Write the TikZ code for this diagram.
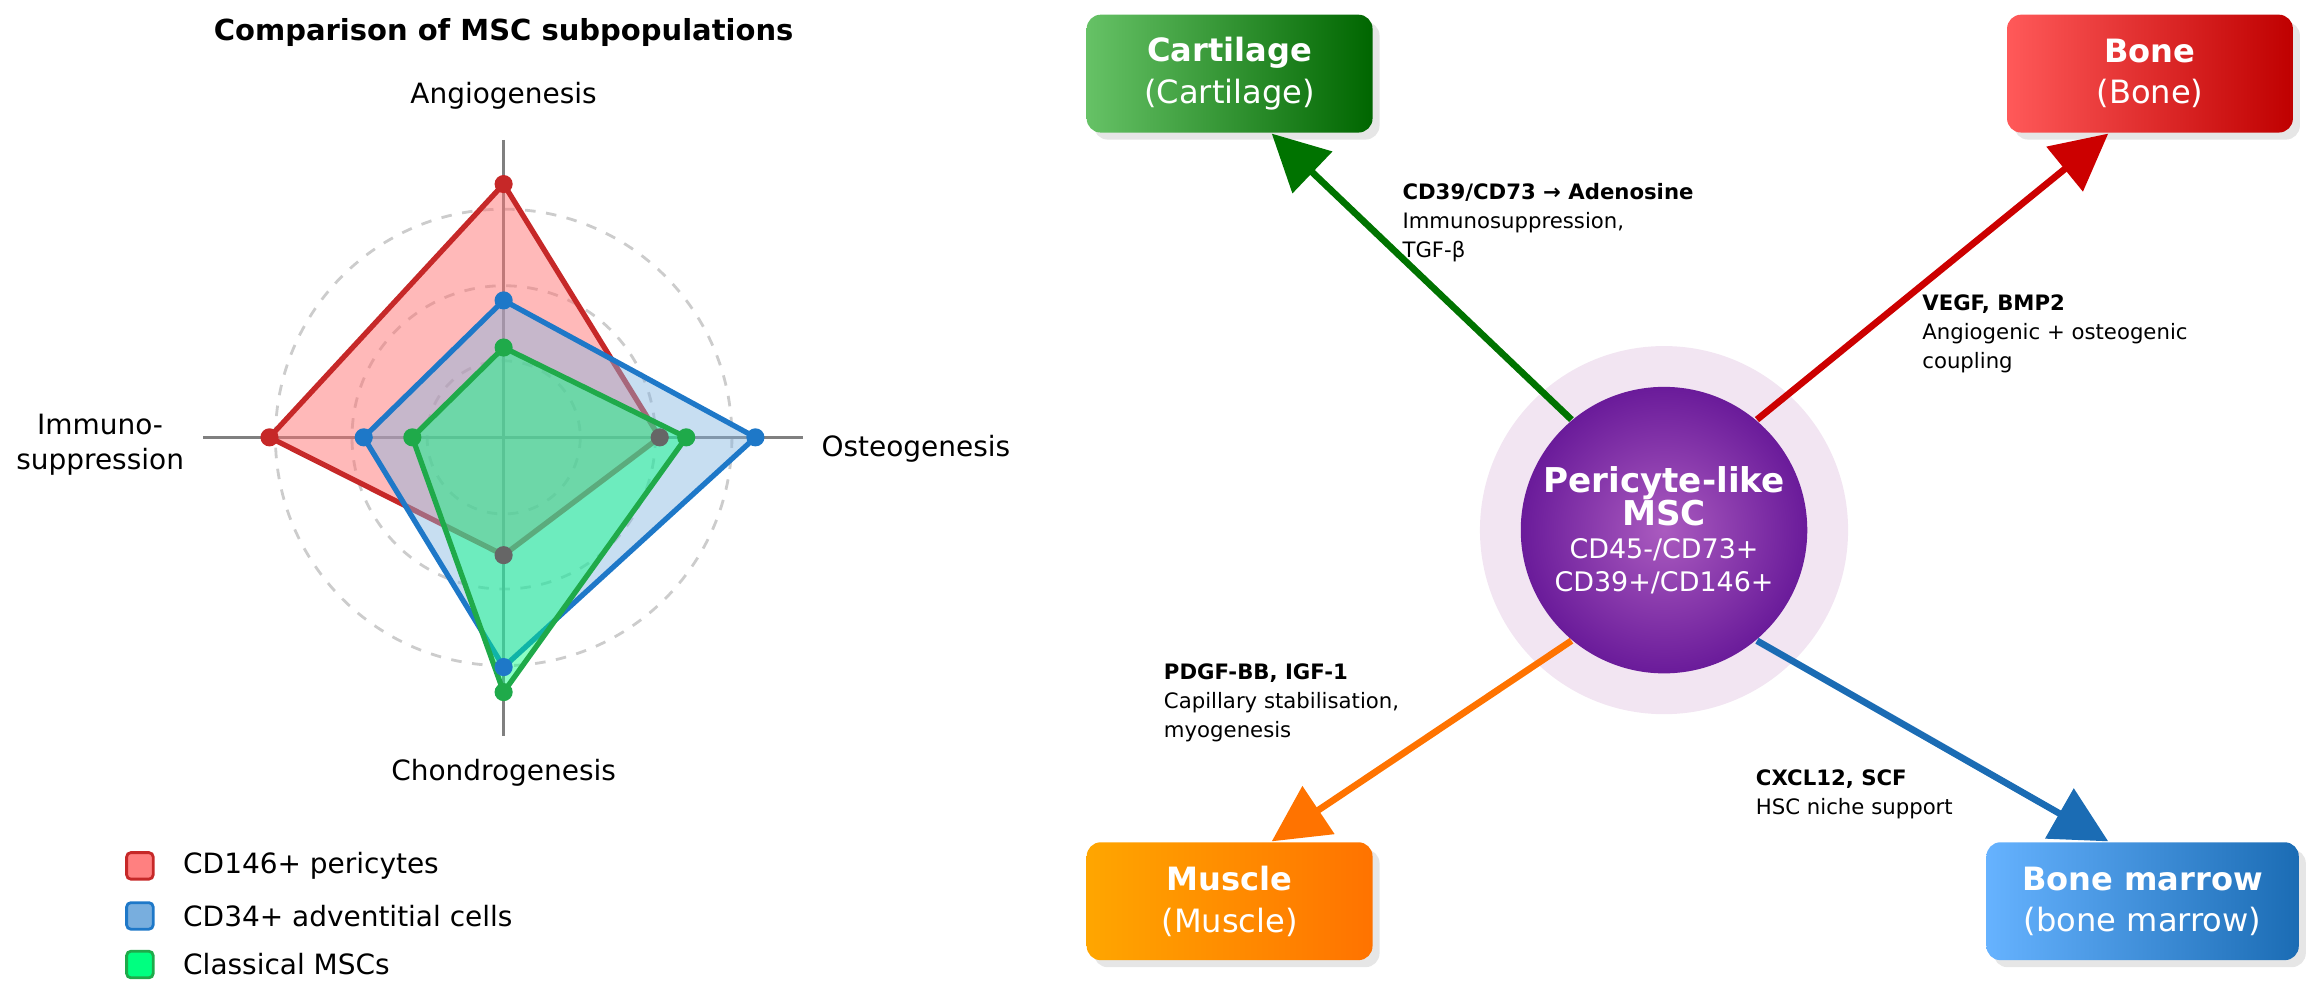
\documentclass[tikz,border=0pt]{standalone}
\usepackage{fontspec}
\setmainfont{DejaVu Sans}
\usetikzlibrary{arrows.meta,shadows}
\definecolor{cr}{HTML}{C62828}\definecolor{cb}{HTML}{1E78C8}\definecolor{cg}{HTML}{1FAA4A}
\definecolor{pu}{HTML}{8E24AA}\definecolor{pud}{HTML}{6A1B9A}
\newcommand{\bigb}[1]{\textbf{\fontsize{6.6}{8}\selectfont #1}}
\begin{document}
\begin{tikzpicture}[x=0.01cm,y=-0.01cm,scale=1.4726,every node/.append style={transform shape},
 lab/.style={font=\fontsize{5.4}{6.6}\selectfont,align=center},
 sm/.style={font=\fontsize{4.1}{5.6}\selectfont,align=left,anchor=north west},
 box/.style={rounded corners=4pt,minimum width=1.94cm,minimum height=0.8cm,align=center,text=white,font=\fontsize{6.2}{8}\selectfont,drop shadow={opacity=0.2,shadow xshift=2pt,shadow yshift=-2pt}},
 arr/.style={line width=1.9pt,-{Triangle[length=16pt,width=16pt]}},
 pt/.style={circle,inner sep=0pt,minimum size=3.5pt}]
\useasboundingbox (0,0) rectangle (1568,678);
% radar
\coordinate (c) at (342,297);
\foreach \r in {52,103,155} \draw[gray!40,dashed,line width=0.8pt] (c) circle[radius=\r];
\draw[gray,line width=1pt] (342,95)--(342,500) (138,297)--(545,297);
\filldraw[cr,fill=red!55,fill opacity=0.5,line width=1.5pt] (342,125)--(448,297)--(342,377)--(183,297)--cycle;
\filldraw[cb,fill=cb!55,fill opacity=0.45,line width=1.5pt] (342,204)--(513,297)--(342,453)--(247,297)--cycle;
\filldraw[cg,fill=green!50!cyan,fill opacity=0.45,line width=1.5pt] (342,236)--(466,297)--(342,470)--(280,297)--cycle;
\foreach \p in {(342,125),(183,297)} \node[pt,fill=cr] at \p {};
\foreach \p in {(448,297),(342,377)} \node[pt,fill=gray!80!black] at \p {};
\foreach \p in {(342,204),(513,297),(342,453),(247,297)} \node[pt,fill=cb] at \p {};
\foreach \p in {(342,236),(466,297),(342,470),(280,297)} \node[pt,fill=cg] at \p {};
\node[font=\bfseries\fontsize{5.6}{7}\selectfont] (title) at (342,22) {Comparison of MSC subpopulations};
\node[lab] (a1) at (342,65) {Angiogenesis};
\node[lab] (a2) at (622,305) {Osteogenesis};
\node[lab] (a3) at (342,525) {Chondrogenesis};
\node[lab] (a4) at (68,302) {Immuno-\\suppression};
\foreach \y/\c/\f/\t in {588/cr/red!50/CD146+ pericytes,622/cb/cb!60/CD34+ adventitial cells,655/cg/green!50!cyan/Classical MSCs}{
 \node[draw=\c,fill=\f,line width=0.8pt,rounded corners=1.2pt,minimum size=0.18cm,inner sep=0pt] at (95,\y) {};
 \node[lab,anchor=west] at (112,\y) {\t};}
% right side
\fill[violet!10] (1130,360) circle[radius=125];
\node[circle,minimum size=1.8cm,inner sep=1pt,inner color=pu!75,outer color=pud,text=white,align=center,font=\fontsize{5.2}{6.4}\selectfont] (m) at (1130,360) {\bigb{Pericyte-like}\\\bigb{MSC}\\CD45-/CD73+\\CD39+/CD146+};
\node[box,left color=green!60!black!60!white,right color=green!40!black] (cart) at (835,50) {\textbf{Cartilage}\\(Cartilage)};
\node[box,left color=red!65,right color=red!75!black] (bone) at (1460,50) {\textbf{Bone}\\(Bone)};
\node[box,left color=orange!70!yellow,right color=orange!90!red] (mus) at (835,612) {\textbf{Muscle}\\(Muscle)};
\node[box,minimum width=2.12cm,left color=cyan!50!blue!60,right color=cb!90!black] (bm) at (1455,612) {\textbf{Bone marrow}\\(bone marrow)};
\draw[arr,green!45!black] (m.130) -- (cart.-55);
\draw[arr,red!80!black] (m.50) -- (bone.-125);
\draw[arr,orange!90!red] (m.-130) -- (mus.55);
\draw[arr,cb!90!black] (m.-50) -- (bm.120);
\node[sm] (t1) at (940,112) {\textbf{CD39/CD73 → Adenosine}\\Immunosuppression,\\TGF-β};
\node[sm] (t2) at (1293,188) {\textbf{VEGF, BMP2}\\Angiogenic + osteogenic\\coupling};
\node[sm] (t3) at (778,438) {\textbf{PDGF-BB, IGF-1}\\Capillary stabilisation,\\myogenesis};
\node[sm] (t4) at (1180,510) {\textbf{CXCL12, SCF}\\HSC niche support};
\end{tikzpicture}
\end{document}
